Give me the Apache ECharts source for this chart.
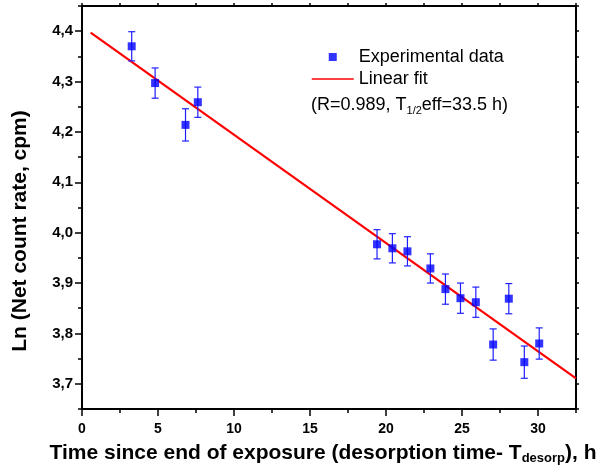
<!DOCTYPE html>
<html><head><meta charset="utf-8">
<script src="https://cdn.jsdelivr.net/npm/echarts@6/dist/echarts.min.js"></script>
<style>html,body{margin:0;padding:0;background:#fff}#c{width:598px;height:475px}</style>
</head><body><div id="c"></div>
<script>
const timeH = [3.27, 4.81, 6.81, 7.62, 19.41, 20.42, 21.41, 22.92, 23.91, 24.90, 25.91, 27.05, 28.08, 29.10, 30.08];
const lnRate = [4.370, 4.297, 4.214, 4.259, 3.977, 3.969, 3.963, 3.929, 3.888, 3.870, 3.862, 3.778, 3.869, 3.743, 3.780];
const lnErr = [0.029, 0.030, 0.032, 0.030, 0.029, 0.029, 0.029, 0.029, 0.030, 0.030, 0.030, 0.031, 0.030, 0.032, 0.031];
const fitX = [0.57, 32.5];
const fitY = [4.397, 3.711];
const xMajorTicks = [0, 5, 10, 15, 20, 25, 30];
const yMajorTicks = [3.7, 3.8, 3.9, 4.0, 4.1, 4.2, 4.3, 4.4];

const FONT = "'Liberation Sans', Arial, sans-serif";
const BLACK = '#000';
const axisLineStyle = {color: BLACK, width: 2};

const chart = echarts.init(document.getElementById('c'), null, {renderer: 'canvas'});
const pts = timeH.map((t, i) => [t, lnRate[i]]);
const errData = timeH.map((t, i) => [t, lnRate[i], lnErr[i]]);
const fitData = fitX.map((x, i) => [x, fitY[i]]);

const option = {
  animation: false,
  backgroundColor: '#fff',
  grid: {left: 82, right: 22, top: 6, bottom: 66, containLabel: false, outerBoundsMode: 'none'},
  title: {
    text: '(R=0.989, T{sub|1/2}eff=33.5 h)',
    left: 311, top: 95, padding: 0,
    textStyle: {
      fontFamily: FONT, fontSize: 18, fontWeight: 'normal', color: BLACK,
      rich: {sub: {fontFamily: FONT, fontSize: 11, color: BLACK, padding: [10, 0, 0, 0]}}
    }
  },
  legend: {
    orient: 'vertical', left: 311, top: 48, padding: 0,
    itemWidth: 42, itemHeight: 8, itemGap: 4,
    textStyle: {fontFamily: FONT, fontSize: 18, color: BLACK},
    lineStyle: {width: 1.5},
    data: [
      {name: 'Experimental data', icon: 'path://M0 0L10 0L10 10L0 10Z'},
      {name: 'Linear fit', itemStyle: {opacity: 0}}
    ]
  },
  xAxis: [
    {
      type: 'value', position: 'bottom', min: 0, max: 32.5, interval: 2.5,
      axisLine: {onZero: false, lineStyle: axisLineStyle},
      axisTick: {inside: false, length: 4, lineStyle: {color: BLACK, width: 1.5}},
      axisLabel: {customValues: xMajorTicks, fontFamily: FONT, fontSize: 14, fontWeight: 'bold', color: BLACK, margin: 13},
      splitLine: {show: false},
      name: 'Time since end of exposure (desorption time- T{sub|desorp}), h',
      nameLocation: 'middle', nameGap: 32,
      nameTextStyle: {
        fontFamily: FONT, fontSize: 21, fontWeight: 'bold', color: BLACK, padding: [0, 12, 0, 0],
        rich: {sub: {fontFamily: FONT, fontSize: 13, fontWeight: 'bold', color: BLACK, padding: [11, 0, 0, 0]}}
      }
    },
    {
      type: 'value', position: 'bottom', min: 0, max: 32.5,
      axisLine: {show: false},
      axisTick: {customValues: xMajorTicks, inside: false, length: 7, lineStyle: {color: BLACK, width: 1.5}},
      axisLabel: {show: false}, splitLine: {show: false}
    },
    {
      type: 'value', position: 'top', min: 0, max: 32.5, interval: 2.5,
      axisLine: {onZero: false, lineStyle: axisLineStyle},
      axisTick: {inside: false, length: 3, lineStyle: {color: BLACK, width: 1.5}},
      axisLabel: {show: false}, splitLine: {show: false}
    }
  ],
  yAxis: [
    {
      type: 'value', position: 'left', min: 3.65, max: 4.45, interval: 0.05,
      axisLine: {onZero: false, lineStyle: axisLineStyle},
      axisTick: {inside: false, length: 4, lineStyle: {color: BLACK, width: 1.5}},
      axisLabel: {
        customValues: yMajorTicks, fontFamily: FONT, fontSize: 15, fontWeight: 'bold', color: BLACK, margin: 9,
        formatter: v => v.toFixed(1).replace('.', ',')
      },
      splitLine: {show: false},
      name: 'Ln (Net count rate, cpm)', nameLocation: 'middle', nameGap: 51,
      nameTextStyle: {fontFamily: FONT, fontSize: 21, fontWeight: 'bold', color: BLACK, padding: [0, 47, 0, 0]}
    },
    {
      type: 'value', position: 'left', min: 3.65, max: 4.45,
      axisLine: {show: false},
      axisTick: {customValues: yMajorTicks, inside: false, length: 7, lineStyle: {color: BLACK, width: 1.5}},
      axisLabel: {show: false}, splitLine: {show: false}
    },
    {
      type: 'value', position: 'right', min: 3.65, max: 4.45, interval: 0.05,
      axisLine: {onZero: false, lineStyle: axisLineStyle},
      axisTick: {inside: false, length: 3, lineStyle: {color: BLACK, width: 1.5}},
      axisLabel: {show: false}, splitLine: {show: false}
    }
  ],
  series: [
    {
      name: 'Linear fit', type: 'line', data: fitData, xAxisIndex: 0, yAxisIndex: 0,
      symbol: 'none', showSymbol: false, lineStyle: {color: '#ff0000', width: 2.2}, itemStyle: {color: '#ff0000'}, z: 2
    },
    {
      name: 'errors', type: 'custom', data: errData, xAxisIndex: 0, yAxisIndex: 0, z: 3,
      renderItem: function (params, api) {
        const x = api.value(0), y = api.value(1), e = api.value(2);
        const top = api.coord([x, y + e]);
        const bot = api.coord([x, y - e]);
        const hw = 3.5;
        const style = {stroke: '#2020ff', lineWidth: 1.2};
        return {type: 'group', children: [
          {type: 'line', shape: {x1: top[0], y1: top[1], x2: bot[0], y2: bot[1]}, style: style},
          {type: 'line', shape: {x1: top[0] - hw, y1: top[1], x2: top[0] + hw, y2: top[1]}, style: style},
          {type: 'line', shape: {x1: bot[0] - hw, y1: bot[1], x2: bot[0] + hw, y2: bot[1]}, style: style}
        ]};
      }
    },
    {
      name: 'Experimental data', type: 'scatter', data: pts, xAxisIndex: 0, yAxisIndex: 0,
      symbol: 'rect', symbolSize: 8, itemStyle: {color: '#0000ff'}, z: 4
    }
  ]
};
chart.setOption(option);
</script></body></html>
